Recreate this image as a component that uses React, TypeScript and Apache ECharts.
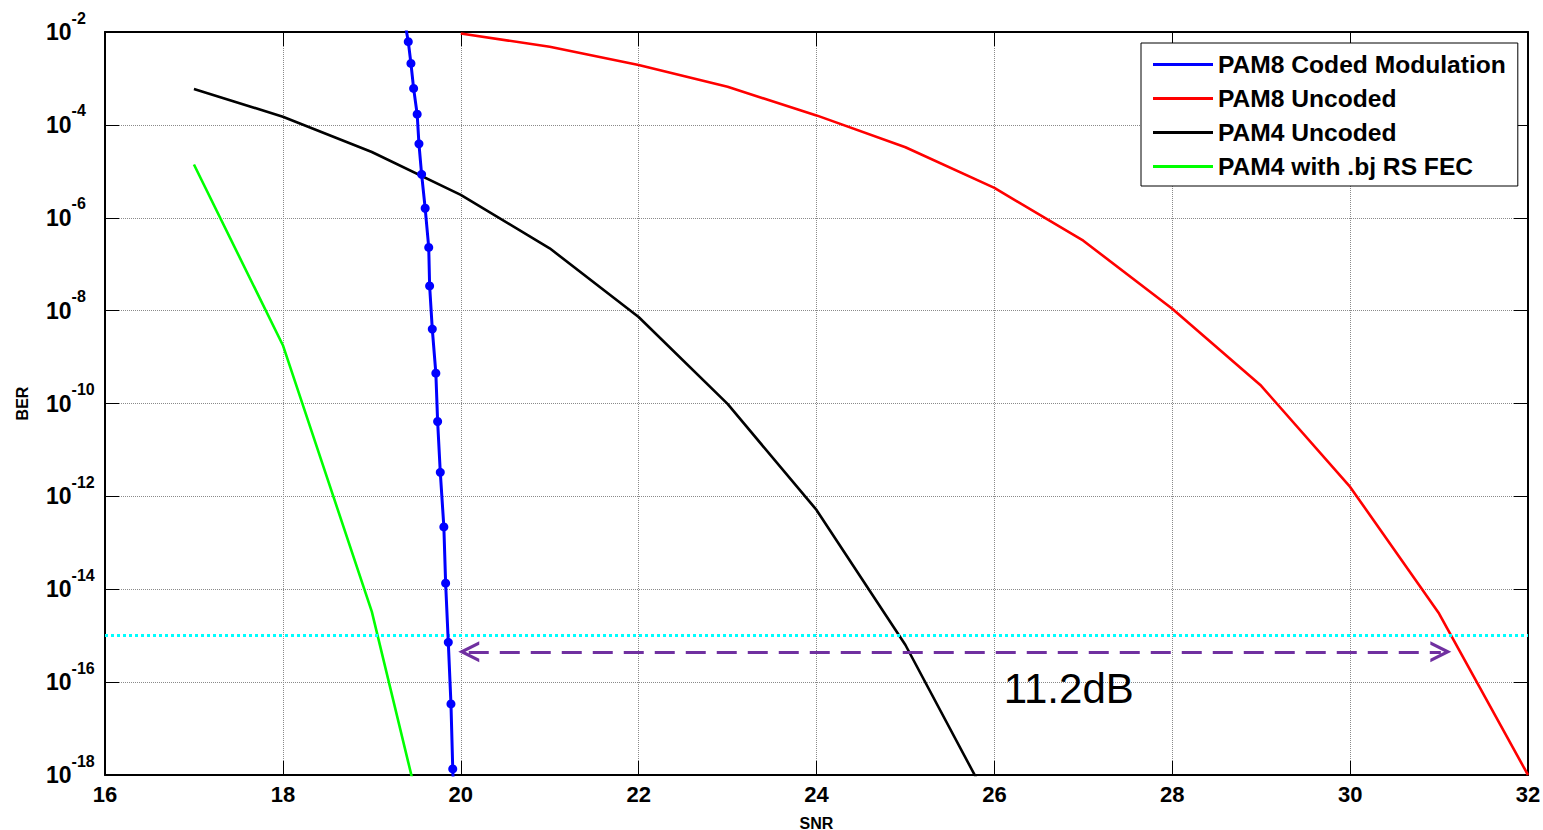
import React, { useEffect, useRef } from "react";
import * as echarts from "echarts";

const FONT = "'Liberation Sans', Arial, Helvetica, sans-serif";

// PAM8 Coded Modulation (blue, with markers)
const codedSNR = [19.37, 19.41, 19.44, 19.47, 19.51, 19.53, 19.56, 19.6, 19.64, 19.65, 19.68, 19.72, 19.74, 19.77, 19.81, 19.83, 19.86, 19.89, 19.91, 19.94];
const codedBER = [1.7e-2, 6.2e-3, 2.1e-3, 6.1e-4, 1.7e-4, 3.9e-5, 8.6e-6, 1.6e-6, 2.3e-7, 3.4e-8, 4.0e-9, 4.5e-10, 4.1e-11, 3.3e-12, 2.2e-13, 1.35e-14, 7.2e-16, 3.4e-17, 1.35e-18, 5e-20];

// PAM8 Uncoded (red)
const pam8SNR = [20, 21, 22, 23, 24, 25, 26, 27, 28, 29, 30, 31, 32];
const pam8BER = [9.3e-3, 4.8e-3, 1.95e-3, 6.6e-4, 1.6e-4, 3.3e-5, 4.4e-6, 3.2e-7, 1.1e-8, 2.4e-10, 1.6e-12, 3.0e-15, 1e-18];

// PAM4 Uncoded (black)
const pam4SNR = [17, 18, 19, 20, 21, 22, 23, 24, 25, 26];
const pam4BER = [5.9e-4, 1.5e-4, 2.6e-5, 3.1e-6, 2.2e-7, 7.3e-9, 9.8e-11, 5.1e-13, 6.3e-16, 1.6e-19];

// PAM4 with .bj RS FEC (green)
const fecSNR = [17, 18, 19, 20];
const fecBER = [1.4e-5, 1.8e-9, 3.3e-15, 4e-23];

// annotations
const targetBER = 1e-15;
const arrowBER = 4.5e-16;
const arrowFrom = 20.09;
const arrowTo = 31.02;
const gapLabel = "11.2dB";
const gapLabelAt = [26.1, 7.2e-17];

const seriesNames = ["PAM8 Coded Modulation", "PAM8 Uncoded", "PAM4 Uncoded", "PAM4 with .bj RS FEC"];

const xMin = 16;
const xMax = 32;
const xStep = 2;
const yMin = 1e-18;
const yMax = 1e-2;

const chevron = "path://M0,10 L5,0 L10,10 L8.3,10 L5,3.4 L1.7,10 Z";

const zip = (xs: number[], ys: number[]) => xs.map((x, i) => [x, ys[i]]);

export default function App() {
  const ref = useRef<HTMLDivElement>(null);
  useEffect(() => {
    const chart = echarts.init(ref.current!, null, { renderer: "svg" });
    const axisLineStyle = { color: "#000", width: 2 };
    const tick = { show: true, inside: true, length: 14, lineStyle: { color: "#000", width: 1 } };
    const option: any = {
      animation: false,
      backgroundColor: "#fff",
      textStyle: { fontFamily: FONT },
      grid: { left: 105, right: 15, top: 32, bottom: 55, containLabel: false, outerBoundsMode: "none" },
      legend: {
        orient: "vertical",
        left: 1141,
        top: 43,
        backgroundColor: "#fff",
        borderColor: "#000",
        borderWidth: 1,
        borderRadius: 0,
        padding: [9, 12, 7, 12],
        itemGap: 9,
        itemWidth: 60,
        itemHeight: 3,
        icon: "rect",
        textStyle: { fontSize: 24.6, fontWeight: "bold", fontFamily: FONT, color: "#000", lineHeight: 24 },
        data: seriesNames,
      },
      xAxis: [
        {
          type: "value",
          min: xMin,
          max: xMax,
          interval: xStep,
          position: "bottom",
          axisLine: { show: true, onZero: false, lineStyle: axisLineStyle },
          axisTick: tick,
          axisLabel: { color: "#000", fontSize: 22, fontWeight: "bold", fontFamily: FONT, margin: 8 },
          splitLine: { show: true, lineStyle: { color: "#8a8a8a", type: [1, 1], width: 1 } },
          name: "SNR",
          nameLocation: "middle",
          nameGap: 40,
          nameTextStyle: { color: "#000", fontSize: 16, fontWeight: "bold", fontFamily: FONT },
        },
        {
          type: "value",
          min: xMin,
          max: xMax,
          interval: xStep,
          position: "top",
          axisLine: { show: true, onZero: false, lineStyle: axisLineStyle },
          axisTick: tick,
          axisLabel: { show: false },
          splitLine: { show: false },
        },
      ],
      yAxis: [
        {
          type: "log",
          logBase: 10,
          min: yMin,
          max: yMax,
          interval: 2,
          splitNumber: 8,
          position: "left",
          axisLine: { show: true, onZero: false, lineStyle: axisLineStyle },
          axisTick: tick,
          minorTick: { show: false },
          axisLabel: {
            align: "left",
            margin: 59,
            formatter: (v: number) => `{b|10}{s|${Math.round(Math.log10(v))}}`,
            rich: {
              b: { fontSize: 23, fontWeight: "bold", fontFamily: FONT, color: "#000", lineHeight: 24 },
              s: { fontSize: 16, fontWeight: "bold", fontFamily: FONT, color: "#000", lineHeight: 16, padding: [0, 0, 28, 0] },
            },
          },
          splitLine: { show: true, lineStyle: { color: "#8a8a8a", type: [1, 1], width: 1 } },
          name: "BER",
          nameLocation: "middle",
          nameGap: 75,
          nameTextStyle: { color: "#000", fontSize: 16, fontWeight: "bold", fontFamily: FONT },
        },
        {
          type: "log",
          logBase: 10,
          min: yMin,
          max: yMax,
          interval: 2,
          splitNumber: 8,
          position: "right",
          axisLine: { show: true, onZero: false, lineStyle: axisLineStyle },
          axisTick: tick,
          axisLabel: { show: false },
          splitLine: { show: false },
        },
      ],
      series: [
        {
          name: seriesNames[1],
          type: "line",
          data: zip(pam8SNR, pam8BER),
          showSymbol: false,
          symbol: "none",
          color: "#ff0000",
          lineStyle: { color: "#ff0000", width: 2.6 },
          z: 3,
        },
        {
          name: seriesNames[2],
          type: "line",
          data: zip(pam4SNR, pam4BER),
          showSymbol: false,
          symbol: "none",
          color: "#000000",
          lineStyle: { color: "#000000", width: 2.6 },
          z: 3,
        },
        {
          name: seriesNames[3],
          type: "line",
          data: zip(fecSNR, fecBER),
          showSymbol: false,
          symbol: "none",
          color: "#00ff00",
          lineStyle: { color: "#00ff00", width: 2.6 },
          z: 3,
        },
        {
          name: "annotations",
          type: "line",
          data: [],
          z: 4,
          markLine: {
            silent: true,
            animation: false,
            symbol: ["none", "none"],
            symbolSize: [21, 21],
            label: { show: false },
            data: [
              [
                { coord: [xMin, targetBER], symbol: "none", lineStyle: { color: "#00ffff", type: [3, 3], width: 3 } },
                { coord: [xMax, targetBER], symbol: "none" },
              ],
              [
                { coord: [arrowFrom, arrowBER], symbol: chevron, symbolSize: [21, 21], lineStyle: { color: "#7030a0", type: [20, 11], width: 3 } },
                { coord: [arrowTo, arrowBER], symbol: chevron, symbolSize: [21, 21] },
              ],
            ],
          },
          markPoint: {
            silent: true,
            animation: false,
            data: [
              {
                coord: gapLabelAt,
                symbol: "rect",
                symbolSize: 1,
                itemStyle: { color: "rgba(0,0,0,0)" },
                label: {
                  show: true,
                  position: "right",
                  distance: 0,
                  formatter: gapLabel,
                  color: "#000",
                  fontSize: 42,
                  fontFamily: FONT,
                  fontWeight: "normal",
                },
              },
            ],
          },
        },
        {
          name: seriesNames[0],
          type: "line",
          data: zip(codedSNR, codedBER),
          showSymbol: true,
          symbol: "circle",
          symbolSize: 9,
          color: "#0000ff",
          itemStyle: { color: "#0000ff" },
          lineStyle: { color: "#0000ff", width: 3 },
          z: 5,
        },
      ],
    };
    chart.setOption(option);
    return () => chart.dispose();
  }, []);
  return (
    <div
      ref={ref}
      style={{ position: "fixed", left: 0, top: 0, width: 1543, height: 830, background: "#fff" }}
    />
  );
}
